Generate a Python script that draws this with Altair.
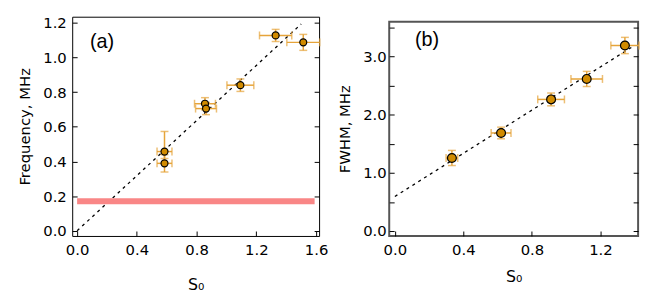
import altair as alt
import pandas as pd

# ---------- panel (a) data ----------
a_s0 = [0.585, 0.585, 0.856, 0.863, 1.093, 1.329, 1.514]
a_freq = [0.457, 0.389, 0.733, 0.705, 0.840, 1.127, 1.087]
a_s0_err = [0.05, 0.05, 0.07, 0.07, 0.09, 0.108, 0.11]
a_freq_err_lo = [0.04, 0.05, 0.035, 0.035, 0.036, 0.035, 0.046]
a_freq_err_hi = [0.116, 0.05, 0.035, 0.035, 0.036, 0.035, 0.046]
a_fit_x = [0.0, 1.50]
a_fit_y = [0.0, 1.193]
band_x = [0.0, 1.59]
band_y = [0.17, 0.17]

# ---------- panel (b) data ----------
b_s0 = [0.333, 0.620, 0.912, 1.120, 1.343]
b_fwhm = [1.256, 1.686, 2.263, 2.615, 3.190]
b_s0_err = [0.034, 0.058, 0.078, 0.092, 0.082]
b_fwhm_err = [0.13, 0.10, 0.11, 0.13, 0.14]
b_fit_x = [0.0, 1.393]
b_fit_y = [0.594, 3.18]

a_xticks = [0.0, 0.2, 0.4, 0.6, 0.8, 1.0, 1.2, 1.4, 1.6]
a_yticks = [0.0, 0.2, 0.4, 0.6, 0.8, 1.0, 1.2]
b_xticks = [0.0, 0.2, 0.4, 0.6, 0.8, 1.0, 1.2, 1.4]
b_yticks = [0.0, 0.5, 1.0, 1.5, 2.0, 2.5, 3.0, 3.5]

BAR = "#e6a43a"
FILL = "#d18b00"
FONT = "DejaVu Sans"


def pts_frame(xs, ys, xe, ylo, yhi):
    return pd.DataFrame({
        "x": xs, "y": ys,
        "xlo": [v - e for v, e in zip(xs, xe)],
        "xhi": [v + e for v, e in zip(xs, xe)],
        "ylo": [v - e for v, e in zip(ys, ylo)],
        "yhi": [v + e for v, e in zip(ys, yhi)],
    })


def panel(df, fit, band, xdom, ydom, xticks, yticks, xlabel_mod, ylabel_mod,
          ytitle, tag, tagpos, w, h, msize, frame, ylabpad, xtitlepad):
    xs = alt.Scale(domain=xdom, nice=False, zero=False)
    ys = alt.Scale(domain=ydom, nice=False, zero=False)
    xlabel = f"round(datum.value*10) % {xlabel_mod} == 0 ? format(datum.value, '.1f') : ''"
    ylabel = f"round(datum.value*10) % {ylabel_mod} == 0 ? format(datum.value, '.1f') : ''"
    xaxis = alt.Axis(values=xticks, labelExpr=xlabel, title="S₀", orient="bottom",
                     offset=-5, tickSize=5, domain=False, grid=False,
                     labelPadding=7, titlePadding=xtitlepad, tickColor="black",
                     labelFont=FONT, labelFontSize=15, titleFont=FONT,
                     titleFontSize=16, titleFontWeight="normal", labelColor="black",
                     titleColor="black")
    yaxis = alt.Axis(values=yticks, labelExpr=ylabel, title=ytitle, orient="left",
                     offset=-5, tickSize=5, domain=False, grid=False,
                     labelPadding=ylabpad, titlePadding=10, tickColor="black",
                     labelFont=FONT, labelFontSize=15, titleFont=FONT,
                     titleFontSize=15, titleFontWeight="normal", labelColor="black",
                     titleColor="black")
    yaxis_r = alt.Axis(values=yticks, labels=False, title=None, orient="right",
                       offset=-5, tickSize=5, domain=False, grid=False,
                       tickColor="black")

    fit_layer = alt.Chart(fit).mark_line(color="black", strokeDash=[3, 4],
                                         strokeWidth=1.3).encode(
        x=alt.X("x:Q", scale=xs, axis=xaxis),
        y=alt.Y("y:Q", scale=ys, axis=yaxis),
    )
    layers = [fit_layer]
    if band is not None:
        layers.append(alt.Chart(band).mark_rule(color="#f98686", strokeWidth=6).encode(
            x=alt.X("x:Q", scale=xs), x2="x2:Q",
            y=alt.Y("y:Q", scale=ys, axis=None)))
    ebx = alt.Chart(df).mark_rule(color=BAR, strokeWidth=1.5).encode(
        x=alt.X("xlo:Q", scale=xs), x2="xhi:Q", y=alt.Y("y:Q", scale=ys, axis=None))
    eby = alt.Chart(df).mark_rule(color=BAR, strokeWidth=1.5).encode(
        x=alt.X("x:Q", scale=xs), y=alt.Y("ylo:Q", scale=ys, axis=None), y2="yhi:Q")
    caps = []
    for c in ["xlo", "xhi"]:
        caps.append(alt.Chart(df).mark_tick(color=BAR, orient="vertical", size=8,
                                            thickness=1.5).encode(
            x=alt.X(f"{c}:Q", scale=xs), y=alt.Y("y:Q", scale=ys, axis=None)))
    for c in ["ylo", "yhi"]:
        caps.append(alt.Chart(df).mark_tick(color=BAR, orient="horizontal", size=8,
                                            thickness=1.5).encode(
            x=alt.X("x:Q", scale=xs), y=alt.Y(f"{c}:Q", scale=ys, axis=None)))
    points = alt.Chart(df).mark_point(shape="circle", filled=True, fill=FILL,
                                      stroke="black", strokeWidth=1.2,
                                      opacity=1, size=msize).encode(
        x=alt.X("x:Q", scale=xs),
        y=alt.Y("y:Q", scale=ys, axis=yaxis_r),
    )
    label = alt.Chart(pd.DataFrame({"t": [tag]})).mark_text(
        font="Liberation Sans", fontSize=20, align="left", baseline="middle",
        color="black").encode(text="t:N", x=alt.value(tagpos[0]), y=alt.value(tagpos[1]))
    layers += [ebx, eby] + caps + [points, label]
    return alt.layer(*layers).resolve_axis(y="independent").properties(
        width=w, height=h, view=alt.ViewBackground(stroke=frame[0], strokeWidth=frame[1]))


df_a = pts_frame(a_s0, a_freq, a_s0_err, a_freq_err_lo, a_freq_err_hi)
df_b = pts_frame(b_s0, b_fwhm, b_s0_err, b_fwhm_err, b_fwhm_err)
band_df = pd.DataFrame({"x": [band_x[0]], "x2": [band_x[1]], "y": [band_y[0]]})

pa = panel(df_a, pd.DataFrame({"x": a_fit_x, "y": a_fit_y}), band_df,
           [-0.033, 1.62], [-0.03, 1.235], a_xticks, a_yticks, 4, 2,
           "Frequency, MHz", "(a)", (18, 26), 250, 222, 50, ("black", 1), 6, 19)

pb = panel(df_b, pd.DataFrame({"x": b_fit_x, "y": b_fit_y}), None,
           [-0.033, 1.42], [-0.085, 3.6], b_xticks, b_yticks, 4, 10,
           "FWHM, MHz", "(b)", (26, 19), 252, 217, 80, ("#555555", 2), 3, 11)

spacer = alt.Chart(pd.DataFrame({"a": [0]})).mark_rule(opacity=0, strokeWidth=0).encode(
    x=alt.value(0), y=alt.value(0), y2=alt.value(0)).properties(
    width=252, height=1, view=alt.ViewBackground(stroke="transparent"))

right = alt.vconcat(spacer, pb, spacing=2)
chart = alt.hconcat(pa, right, spacing=8).properties(
    padding={"left": 9, "top": 5, "right": 5, "bottom": 5})

chart.save("out.html", embed_options={"renderer": "svg", "actions": False})
